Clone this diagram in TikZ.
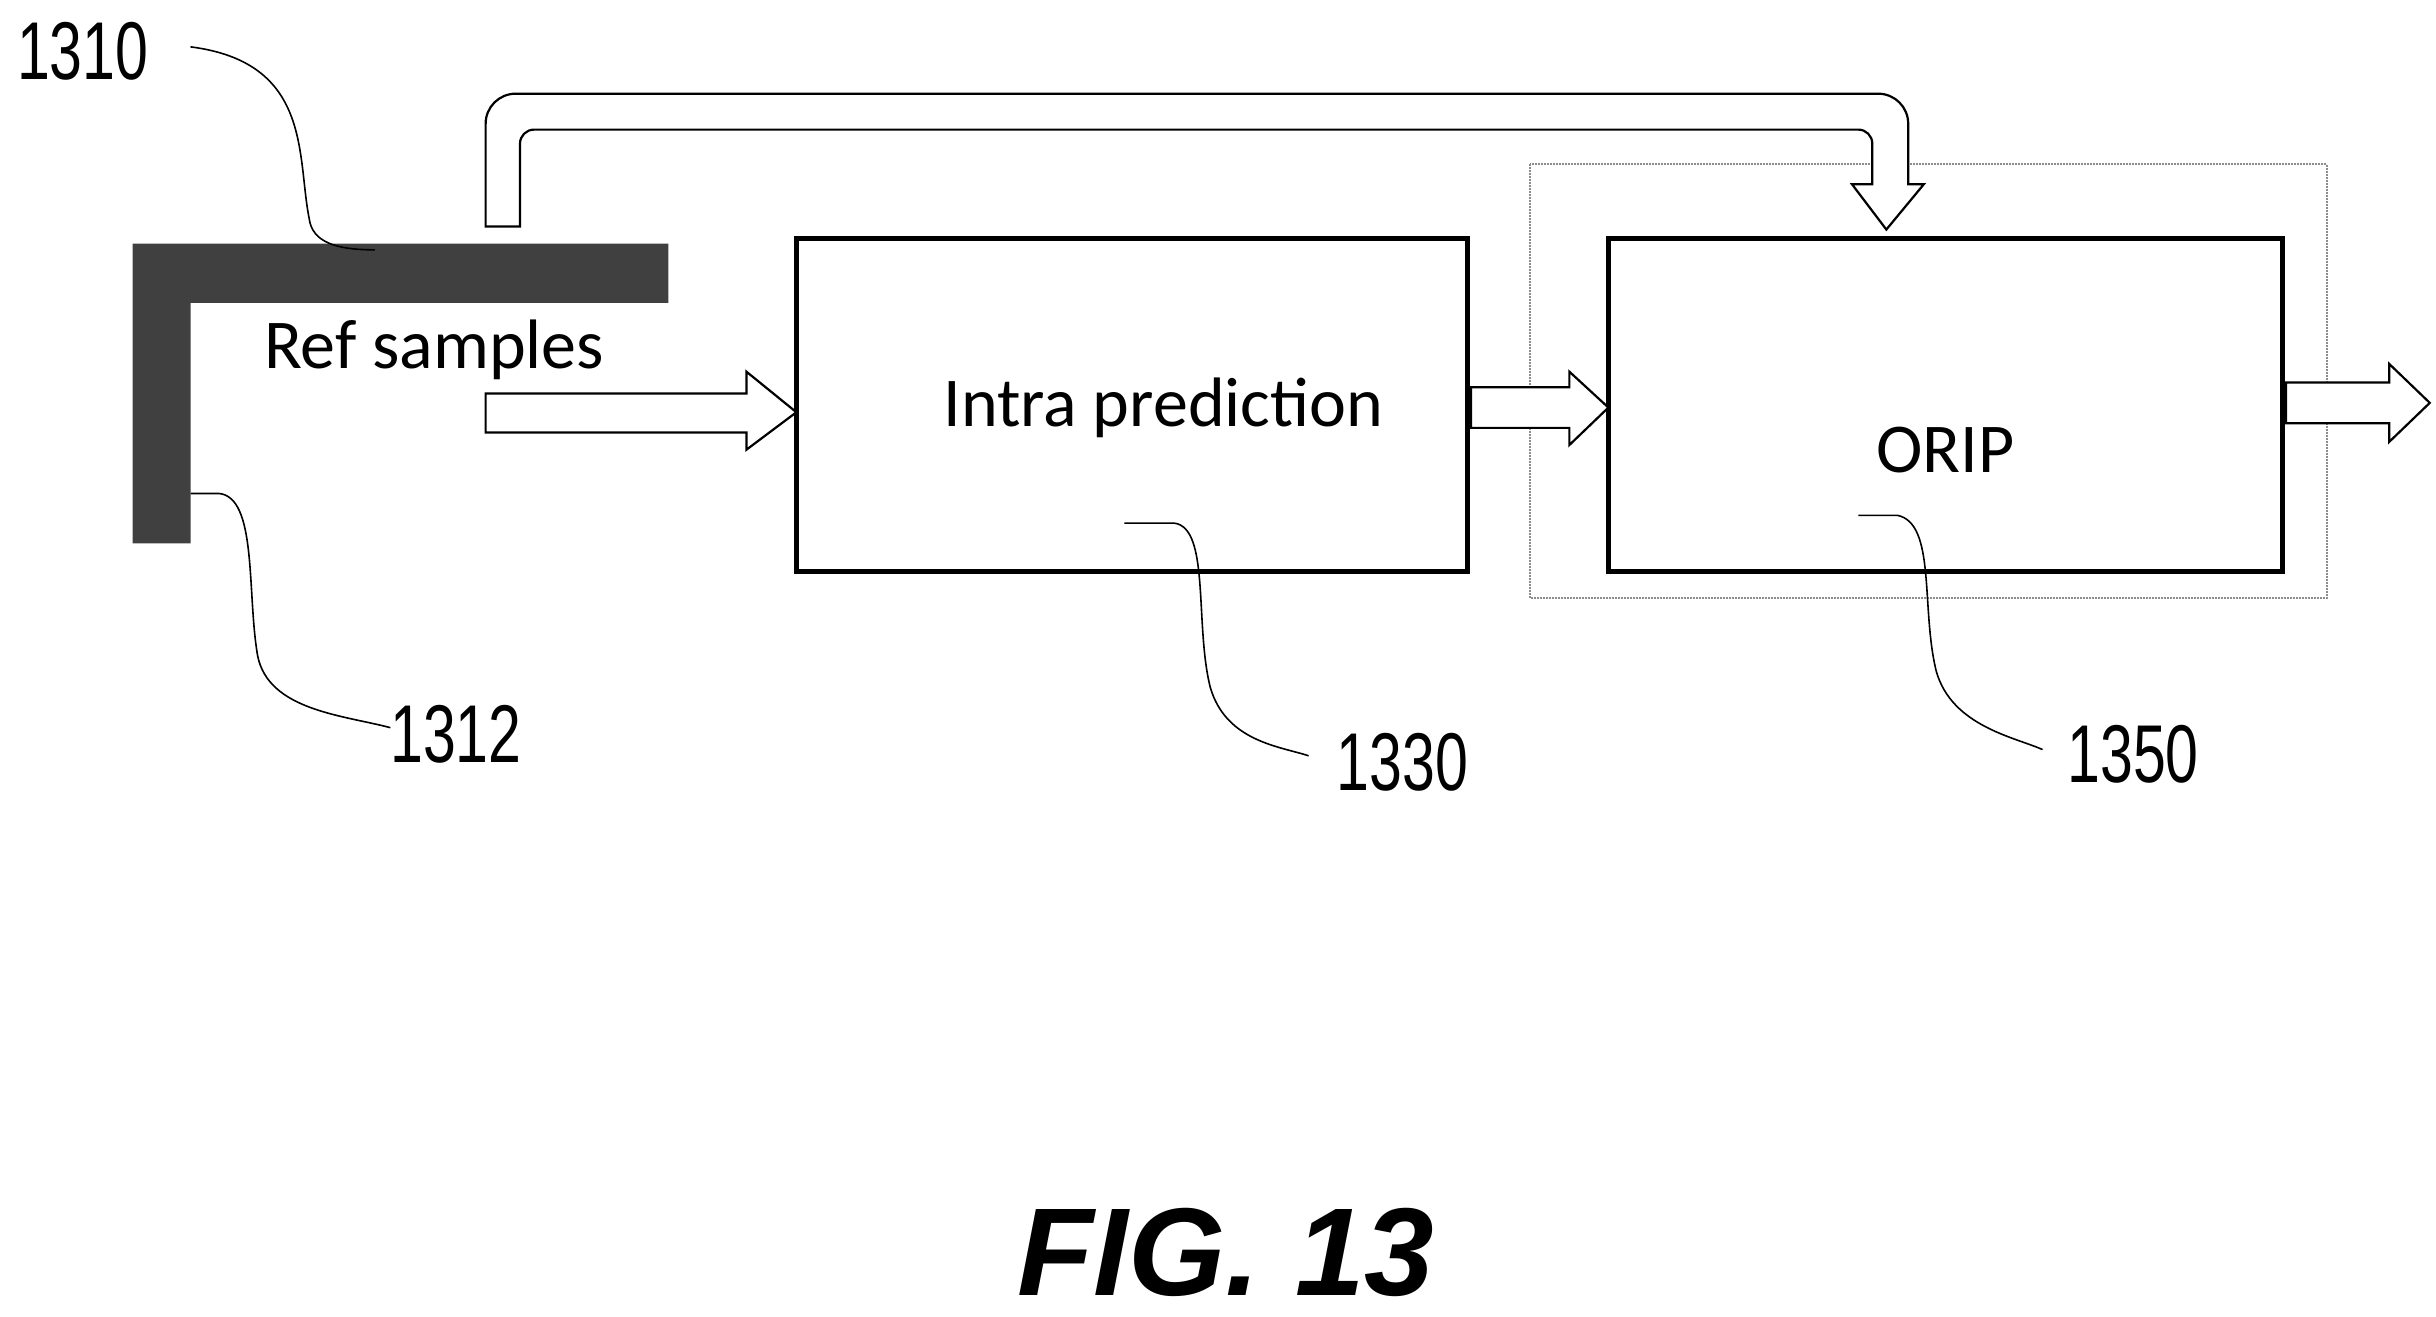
\documentclass[tikz,border=0pt]{standalone}
\usepackage{fontspec}
\setmainfont{Carlito}
\newfontfamily\numfont{Liberation Sans}
\begin{document}
\begin{tikzpicture}[x=1.5615pt,y=-1.5615pt,
  blk/.style={draw=black,line width=5pt,fill=white},
  barr/.style={draw=black,line width=2.2pt,fill=white,line join=miter},
  lead/.style={draw=black,line width=1.6pt},
  lbl/.style={font=\numfont\fontsize{82}{90}\selectfont,xscale=0.72,inner sep=0pt},
  txt/.style={font=\fontsize{70}{80}\selectfont,inner sep=0pt}]
\useasboundingbox (0,0) rectangle (1560,843);
% L-shaped ref samples
\fill[black!75] (85,156) -- (428,156) -- (428,194) -- (122,194) -- (122,348) -- (85,348) -- cycle;
\node[txt] (ref) at (278,224) {Ref samples};
% dotted outer box
\draw[black!45,line width=2pt,densely dotted] (980,105) rectangle (1490,383);
% boxes
\node[blk,minimum width=430*1.5615pt,minimum height=213*1.5615pt,inner sep=0pt] (intra) at (725,259.5) {};
\node[txt] at (745,261) {Intra prediction};
\node[blk,minimum width=432*1.5615pt,minimum height=213*1.5615pt,inner sep=0pt] (orip) at (1246,259.5) {};
\node[txt] at (1246,288) {ORIP};
% block arrows
\draw[barr] (311,252) -- (478,252) -- (478,238) -- (510,264) -- (478,288) -- (478,277) -- (311,277) -- cycle;
\draw[barr] (942,248) -- (1005,248) -- (1005,238) -- (1030,261) -- (1005,285) -- (1005,274) -- (942,274) -- cycle;
\draw[barr] (1464,245) -- (1530,245) -- (1530,233) -- (1556,258) -- (1530,283) -- (1530,271) -- (1464,271) -- cycle;
\draw[barr] (311,145) [rounded corners=30pt] -- (311,60) -- (1222,60) [sharp corners] -- (1222,118) -- (1232,118) -- (1208,147) -- (1186,118) -- (1199,118) [rounded corners=14pt] -- (1199,83) -- (333,83) [sharp corners] -- (333,145) -- cycle;
% labels
\node[lbl] (l1310) at (53,33) {1310};
\node[lbl] (l1312) at (292,470) {1312};
\node[lbl] (l1330) at (898,488) {1330};
\node[lbl] (l1350) at (1366,483) {1350};
\draw[lead] (122,30) .. controls (200,40) and (190,100) .. (198,140) .. controls (200,155) and (215,160) .. (240,160);
\draw[lead] (122,316) -- (140,316) .. controls (165,318) and (158,380) .. (165,420) .. controls (172,455) and (220,458) .. (250,466);
\draw[lead] (720,335) -- (752,335) .. controls (775,338) and (765,400) .. (775,440) .. controls (785,475) and (820,478) .. (838,484);
\draw[lead] (1190,330) -- (1215,330) .. controls (1240,335) and (1230,390) .. (1240,430) .. controls (1250,465) and (1290,472) .. (1308,480);
\node[font=\numfont\bfseries\itshape\fontsize{125}{130}\selectfont,inner sep=0pt] (fig) at (785,802) {FIG. 13};
\end{tikzpicture}
\end{document}
